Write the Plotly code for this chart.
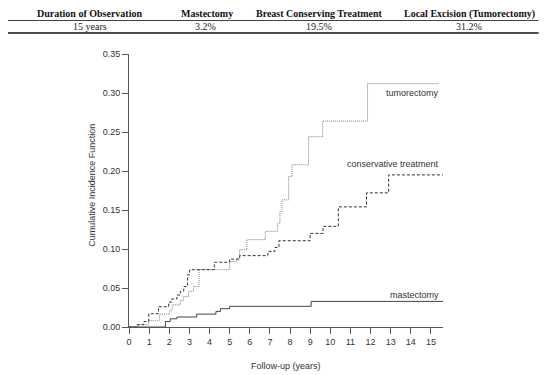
import plotly.graph_objects as go

# ---------------- data ----------------
table_headers = ["Duration of Observation", "Mastectomy", "Breast Conserving Treatment", "Local Excision (Tumorectomy)"]
table_values = ["15 years", "3.2%", "19.5%", "31.2%"]

mast_t = [0, 1.81, 2.05, 2.38, 3.36, 4.32, 4.54, 5.0, 9.05, 15.6]
mast_v = [0, 0.007, 0.0105, 0.0128, 0.0165, 0.020, 0.0235, 0.0265, 0.0328, 0.0328]

cons_t = [0, 0.40, 0.73, 0.98, 1.47, 1.97, 2.13, 2.38, 2.55, 2.72, 2.91, 3.01, 4.24, 5.0, 5.5,
          6.9, 7.25, 7.45, 9.0, 9.64, 10.4, 11.8, 12.9, 15.6]
cons_v = [0, 0.003, 0.007, 0.017, 0.026, 0.032, 0.036, 0.041, 0.046, 0.052, 0.067, 0.0735, 0.083, 0.087, 0.0915,
          0.097, 0.102, 0.1106, 0.120, 0.129, 0.154, 0.172, 0.195, 0.195]

tumo_t = [0, 0.45, 0.98, 1.52, 2.02, 2.15, 2.55, 2.70, 2.96, 3.20, 3.48, 5.0, 5.36, 5.49, 5.86, 6.77,
          7.38, 7.50, 7.60, 7.93, 8.10, 8.92, 9.62, 11.85, 15.38]
tumo_v = [0, 0.003, 0.008, 0.0165, 0.021, 0.0285, 0.034, 0.039, 0.0457, 0.052, 0.0735, 0.084, 0.088, 0.099, 0.112, 0.1226,
          0.133, 0.148, 0.163, 0.193, 0.208, 0.244, 0.264, 0.312, 0.312]

curve_labels = ["tumorectomy", "conservative treatment", "mastectomy"]
label_y = [0.3004, 0.2094, 0.0414]

x_ticks = list(range(0, 16))
y_ticks = [0, 0.05, 0.10, 0.15, 0.20, 0.25, 0.30, 0.35]

# ---------------- layout geometry (page pixels) ----------------
OFF = 8  # default page body margin
W, H = 550 - OFF, 375 - OFF
L, R_EDGE = 128.7 - OFF, 442.7 - OFF
T, B_EDGE = 54.3 - OFF, 327.3 - OFF
PW, PH = R_EDGE - L, B_EDGE - T

def px(xp):
    return (xp - OFF - L) / PW

def py(yp):
    return (B_EDGE - (yp - OFF)) / PH

AX = "#555555"
TXT = "#333333"
SANS = "Liberation Sans, Arial, sans-serif"
SERIF = "Liberation Serif, Times New Roman, serif"

fig = go.Figure()
fig.add_trace(go.Scatter(x=tumo_t, y=tumo_v, mode="lines", line=dict(shape="hv", color="#808080", width=1, dash="1px,1px"),
                         hoverinfo="skip", showlegend=False))
fig.add_trace(go.Scatter(x=cons_t, y=cons_v, mode="lines", line=dict(shape="hv", color="#333333", width=1, dash="3px,2px"),
                         hoverinfo="skip", showlegend=False))
fig.add_trace(go.Scatter(x=mast_t, y=mast_v, mode="lines", line=dict(shape="hv", color="#444444", width=1),
                         hoverinfo="skip", showlegend=False))

annotations = []
for lab, yv in zip(curve_labels, label_y):
    annotations.append(dict(x=15.51, y=yv, xref="x", yref="y", text=lab, showarrow=False,
                            xanchor="right", yanchor="middle", font=dict(family=SANS, size=9, color=TXT)))

# axis titles
annotations.append(dict(x=px(92), y=0.1815, xref="paper", yref="y", text="Cumulative Incidence Function",
                        textangle=-90, showarrow=False, xanchor="center", yanchor="middle",
                        font=dict(family=SANS, size=9, color=TXT)))
annotations.append(dict(x=7.8, y=py(366.7), xref="x", yref="paper", text="Follow-up (years)",
                        showarrow=False, xanchor="center", yanchor="middle",
                        font=dict(family=SANS, size=9, color=TXT)))

# table text
col_centers = [89.2, 206.5, 319.5, 469.0]
for cx, h in zip(col_centers, table_headers):
    annotations.append(dict(x=px(cx), y=py(14.0), xref="paper", yref="paper", text="<b>" + h + "</b>",
                            showarrow=False, xanchor="center", yanchor="middle",
                            font=dict(family=SERIF, size=10, color="#111111")))
val_centers = [89.2, 205.5, 319.0, 469.0]
for cx, v in zip(val_centers, table_values):
    annotations.append(dict(x=px(cx), y=py(27.0), xref="paper", yref="paper", text=v,
                            showarrow=False, xanchor="center", yanchor="middle",
                            font=dict(family=SERIF, size=10, color="#222222")))

shapes = []
for yp, w in [(5.3, 1.5), (20.8, 0.8), (33.3, 1.5)]:
    shapes.append(dict(type="line", xref="paper", yref="paper", x0=px(3.3), x1=px(538.3),
                       y0=py(yp), y1=py(yp), line=dict(color="#111111", width=w)))

fig.update_layout(
    width=W, height=H,
    margin=dict(l=L, r=W - R_EDGE, t=T, b=H - B_EDGE, pad=0),
    paper_bgcolor="white", plot_bgcolor="white",
    annotations=annotations, shapes=shapes,
    showlegend=False,
)
fig.update_xaxes(range=[0, 15.6], tickvals=x_ticks, ticktext=[str(t) for t in x_ticks],
                 showgrid=False, zeroline=False, showline=True, linecolor=AX, linewidth=1,
                 ticks="outside", ticklen=6, tickcolor=AX, tickwidth=1,
                 tickfont=dict(family=SANS, size=9, color=TXT))
fig.update_yaxes(range=[0, 0.35], tickvals=y_ticks, ticktext=["%.2f" % v for v in y_ticks],
                 showgrid=False, zeroline=False, showline=True, linecolor=AX, linewidth=1,
                 ticks="outside", ticklen=6, tickcolor=AX, tickwidth=1,
                 tickfont=dict(family=SANS, size=9, color=TXT))

fig.write_html("out.html")
